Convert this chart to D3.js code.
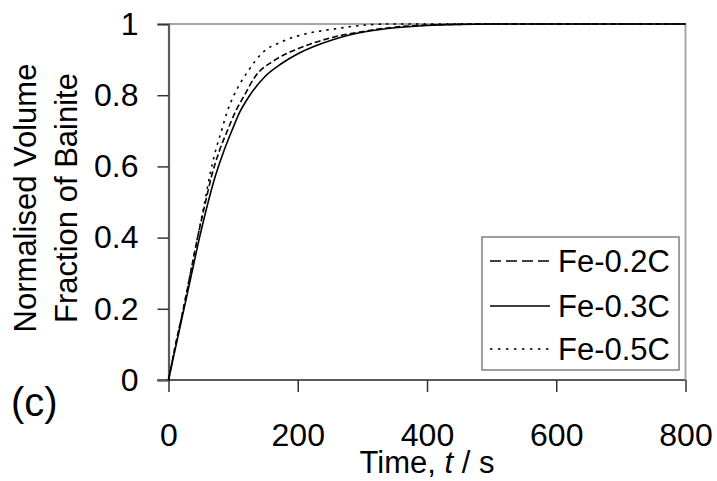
<!DOCTYPE html>
<html>
<head>
<meta charset="utf-8">
<script src="https://cdn.jsdelivr.net/npm/d3@7"></script>
<style>
  body { margin: 0; background: #fff; }
  svg { display: block; font-family: "Liberation Sans", Arial, sans-serif; }
</style>
</head>
<body>
<div class="chart"></div>
<script>
// Time in s, normalised volume fraction
let timeC02 = [0, 11, 23, 34, 45, 56, 67, 79, 91, 104, 116, 134, 165, 201, 253, 304, 355, 400, 450, 500, 600, 700, 800];
let fracC02 = [0, 0.1, 0.2, 0.3, 0.4, 0.49, 0.575, 0.645, 0.7, 0.755, 0.795, 0.852, 0.899, 0.931, 0.962, 0.98, 0.992, 0.997, 0.999, 1, 1, 1, 1];

let timeC03 = [0, 12, 24, 36, 48, 60, 72, 85, 98, 111, 124, 149, 175, 201, 253, 304, 355, 400, 450, 500, 600, 700, 800];
let fracC03 = [0, 0.1, 0.2, 0.3, 0.4, 0.49, 0.57, 0.64, 0.7, 0.755, 0.795, 0.852, 0.889, 0.917, 0.955, 0.978, 0.99, 0.996, 0.999, 1, 1, 1, 1];

let timeC05 = [0, 11, 23, 34, 45, 55, 64, 73, 82, 91, 100, 124, 144, 175, 216, 253, 304, 340, 400, 500, 600, 700, 800];
let fracC05 = [0, 0.1, 0.2, 0.3, 0.4, 0.49, 0.575, 0.645, 0.7, 0.755, 0.795, 0.87, 0.917, 0.95, 0.974, 0.985, 0.997, 1, 1, 1, 1, 1, 1];

let seriesNames = ["Fe-0.2C", "Fe-0.3C", "Fe-0.5C"];
let xTicks = [0, 200, 400, 600, 800];
let yTicks = [0, 0.2, 0.4, 0.6, 0.8, 1];

let svgWidth = 717;
let svgHeight = 481;
let margin = {top: 24, right: 31.5, bottom: 101, left: 168.5};
let width = svgWidth - margin.left - margin.right;
let height = svgHeight - margin.top - margin.bottom;

let svg = d3.select(".chart").append("svg")
  .attr("width", svgWidth)
  .attr("height", svgHeight);

let chartGroup = svg.append("g")
  .attr("transform", `translate(${margin.left}, ${margin.top})`);

let xScale = d3.scaleLinear().domain([0, 800]).range([0, width]);
let yScale = d3.scaleLinear().domain([0, 1]).range([height, 0]);

// top and right frame of the plot area
chartGroup.append("path")
  .attr("d", `M0,0H${width}V${height}`)
  .attr("fill", "none")
  .attr("stroke", "#a6a6a6")
  .attr("stroke-width", 2);

// axes
let leftAxis = d3.axisLeft(yScale)
  .tickValues(yTicks)
  .tickSize(11)
  .tickPadding(19)
  .tickFormat(d => d === 0 || d === 1 ? d3.format("d")(d) : d3.format(".1f")(d));

let bottomAxis = d3.axisBottom(xScale)
  .tickValues(xTicks)
  .tickSize(12)
  .tickPadding(31)
  .tickFormat(d3.format("d"));

let yAxisG = chartGroup.append("g").attr("class", "y-axis").call(leftAxis);
let xAxisG = chartGroup.append("g").attr("class", "x-axis")
  .attr("transform", `translate(0, ${height})`)
  .call(bottomAxis);

[yAxisG, xAxisG].forEach(g => {
  g.select(".domain").attr("stroke", "#5a5a5a").attr("stroke-width", 2.2);
  g.selectAll(".tick line").attr("stroke", "#333").attr("stroke-width", 1.5);
  g.selectAll(".tick text")
    .attr("fill", "#000")
    .style("font-size", "32px")
    .style("font-family", "'Liberation Sans', Arial, sans-serif");
});
xAxisG.select(".domain").attr("d", `M-11,0H${width}`);

// curves
let styles = [
  {dash: "6,3", legendDash: "11,5"},
  {dash: null, legendDash: null},
  {dash: "2.5,5", legendDash: "2.5,5.5"}
];
let seriesData = [
  d3.zip(timeC02, fracC02),
  d3.zip(timeC03, fracC03),
  d3.zip(timeC05, fracC05)
];

let line = d3.line()
  .x(d => xScale(d[0]))
  .y(d => yScale(d[1]))
  .curve(d3.curveMonotoneX);

seriesData.forEach((data, i) => {
  chartGroup.append("path")
    .datum(data)
    .attr("fill", "none")
    .attr("stroke", "#000")
    .attr("stroke-width", 1.6)
    .attr("stroke-dasharray", styles[i].dash)
    .attr("d", line);
});

// legend
let legend = svg.append("g").attr("transform", "translate(482, 237)");
legend.append("rect")
  .attr("width", 197)
  .attr("height", 133)
  .attr("fill", "#fff")
  .attr("stroke", "#7f7f7f")
  .attr("stroke-width", 1.5);

let rowY = [24, 69, 112];
seriesNames.forEach((name, i) => {
  legend.append("line")
    .attr("x1", 8).attr("x2", 68)
    .attr("y1", rowY[i]).attr("y2", rowY[i])
    .attr("stroke", "#000")
    .attr("stroke-width", 1.6)
    .attr("stroke-dasharray", styles[i].legendDash);
  legend.append("text")
    .attr("x", 76)
    .attr("y", rowY[i] + 11)
    .style("font-size", "31px")
    .text(name);
});

// axis titles
svg.append("text")
  .attr("x", margin.left + width / 2)
  .attr("y", 473)
  .attr("text-anchor", "middle")
  .style("font-size", "31px")
  .html("Time, <tspan font-style='italic'>t</tspan> / s");

let yTitle = svg.append("text")
  .attr("transform", "translate(0, 198) rotate(-90)")
  .attr("text-anchor", "middle")
  .style("font-size", "31px");
yTitle.append("tspan").attr("x", 0).attr("y", 36).text("Normalised Volume");
yTitle.append("tspan").attr("x", 0).attr("y", 77).text("Fraction of Bainite");

// panel label
svg.append("text")
  .attr("x", 11)
  .attr("y", 416)
  .style("font-size", "40px")
  .text("(c)");
</script>
</body>
</html>
